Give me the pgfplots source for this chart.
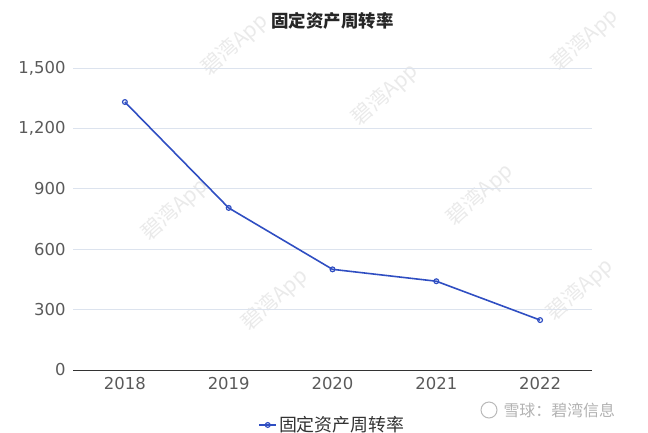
\documentclass[border=0pt]{standalone}
\usepackage{fontspec}
\setmainfont{Noto Sans CJK SC}
\newfontfamily\tickfont{DejaVu Sans}
\usepackage{pgfplots}
\pgfplotsset{compat=1.18}
\definecolor{linec}{HTML}{2F4EC2}
\definecolor{gridc}{HTML}{DCE3EE}
\definecolor{tickc}{HTML}{5A5A5A}
\definecolor{wm}{HTML}{EAEAEA}
\begin{document}
\begin{tikzpicture}[x=1bp,y=1bp]
\path[use as bounding box] (0,0) rectangle (648,432);
% watermarks
\foreach \wx/\wy in {235/45, 385/95, 175/210, 480/195, 585/40, 275/300, 580/290}{
  \node[rotate=42, text=wm, font=\fontsize{21}{21}\selectfont] at (\wx,432-\wy) {碧湾App};
}
\begin{axis}[
  at={(73bp,62bp)}, anchor=south west,
  scale only axis, width=519bp, height=302bp,
  xmin=-0.5, xmax=4.5, ymin=0, ymax=1500,
  ytick={0,300,600,900,1200,1500},
  xtick={0,1,2,3,4},
  xticklabels={2018,2019,2020,2021,2022},
  axis x line*=bottom,
  axis y line*=left,
  y axis line style={draw=none},
  x axis line style={draw=black!80, line width=0.8pt, -},
  major tick length=0pt,
  ymajorgrids,
  grid style={draw=gridc, line width=0.7pt},
  /pgf/number format/.cd, 1000 sep={,}, assume math mode=true,
  /pgfplots/.cd,
  tick label style={font=\tickfont\fontsize{16.5}{18}\selectfont, text=tickc},
  yticklabel style={xshift=-4bp},
  xticklabel style={yshift=-4bp},
  title={\textbf{固定资产周转率}},
  title style={font=\fontsize{17.5}{20}\selectfont, text=black!85, at={(0.5,1)}, yshift=29bp, anchor=south},
  legend style={at={(0.5,-0.182)}, anchor=center, draw=none, fill=none,
    font=\fontsize{18}{20}\selectfont, text=black!80},
  clip=false,
]
\addplot[color=linec, line width=1.6pt, mark=o, mark size=2.4pt,
  mark options={fill=white, line width=1.2pt}] coordinates {
  (0,1331) (1,805) (2,500) (3,441) (4,248)
};
\addlegendentry{固定资产周转率}
\end{axis}
% Xueqiu credit
\draw[gray!55, line width=1pt] (489,22) circle (8);
\node[text=gray!60, font=\fontsize{16}{18}\selectfont, anchor=west] at (500,22) {雪球：碧湾信息};
\end{tikzpicture}
\end{document}
